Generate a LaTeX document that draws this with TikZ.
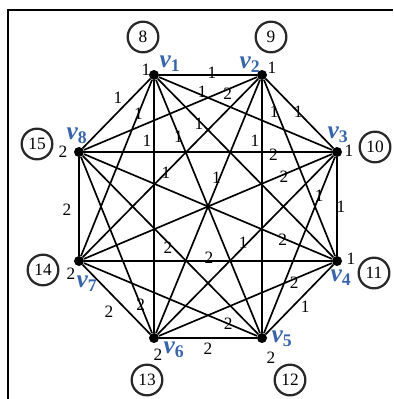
\documentclass[tikz,border=0pt]{standalone}
\usepackage{fontspec}
\setmainfont{Liberation Serif}
\usetikzlibrary{positioning}
\definecolor{vblue}{RGB}{55,100,170}
\definecolor{ringgray}{RGB}{40,40,40}

\begin{document}
\begin{tikzpicture}[x=0.75pt, y=-0.75pt,
  vtx/.style={circle, fill=black, inner sep=0pt, minimum size=7.5pt},
  edge/.style={line width=1.25pt},
  wt/.style={inner sep=0pt, font=\fontsize{13}{15}\selectfont},
  vname/.style={inner sep=0pt, text=vblue, font=\fontsize{19}{21}\selectfont\bfseries\itshape},
  ring/.style={circle, draw=ringgray, line width=1.7pt, minimum size=23pt, inner sep=0pt, font=\fontsize{13}{15}\selectfont}
]
\useasboundingbox (0,0) rectangle (393,399);
\draw[line width=1.2pt] (8,399) -- (8,10) -- (393,10);

% vertices of K8
\node[vtx] (v1) at (154,75) {};
\node[vtx] (v2) at (262,75) {};
\node[vtx] (v3) at (337,152) {};
\node[vtx] (v4) at (337,261) {};
\node[vtx] (v5) at (262,338) {};
\node[vtx] (v6) at (154,338) {};
\node[vtx] (v7) at (79,261) {};
\node[vtx] (v8) at (79,152) {};

% edges from v1
\draw[edge] (v1) -- node[wt, pos=.54, yshift=1.5pt] {1} (v2);
\draw[edge] (v1) -- node[wt, pos=.245, xshift=.75pt, yshift=2.25pt] {1} (v3);
\draw[edge] (v1) -- node[wt, pos=.244, xshift=-1.1pt, yshift=-1.1pt] {1} (v4);
\draw[edge] (v1) -- node[wt, pos=.226, xshift=-.75pt] {1} (v5);
\draw[edge] (v1) -- node[wt, pos=.24, xshift=-5.25pt] {1} (v6);
\draw[edge] (v1) -- node[wt, pos=.19] {1} (v7);
\draw[edge] (v1) -- node[wt, pos=.374, xshift=-5.25pt, yshift=5.25pt] {1} (v8);
% edges from v2
\draw[edge] (v2) -- node[wt, pos=.48] {1} (v3);
\draw[edge] (v2) -- node[wt, pos=.173, xshift=-1.5pt, yshift=-.75pt] {1} (v4);
\draw[edge] (v2) -- node[wt, pos=.24, xshift=-5.25pt] {1} (v5);
\draw[edge] (v2) -- node[wt, pos=.389, xshift=-2.25pt, yshift=.75pt] {1} (v6);
\draw[edge] (v2) -- node[wt, pos=.526] {1} (v7);
\draw[edge] (v2) -- node[wt, pos=.177, xshift=1pt, yshift=-2.5pt] {2} (v8);
% edges from v3
\draw[edge] (v3) -- node[wt, pos=.5, xshift=3pt] {1} (v4);
\draw[edge] (v3) -- node[wt, pos=.221] {1} (v5);
\draw[edge] (v3) -- node[wt, pos=.501, xshift=-1.5pt, yshift=1.5pt] {1} (v6);
\draw[edge] (v3) -- node[wt, pos=.198, xshift=.75pt, yshift=-1.8pt] {2} (v7);
\draw[edge] (v3) -- node[wt, pos=.236, yshift=-2.25pt] {2} (v8);
% edges from v4
\draw[edge] (v4) -- node[wt, pos=.514, xshift=5pt, yshift=-4.8pt] {1} (v5);
\draw[edge] (v4) -- node[wt, pos=.227, xshift=1.1pt, yshift=-2.6pt] {2} (v6);
\draw[edge] (v4) -- node[wt, pos=.496, yshift=2.25pt] {2} (v7);
\draw[edge] (v4) -- node[wt, pos=.199, yshift=-1.3pt] {2} (v8);
% edges from v5
\draw[edge] (v5) -- node[wt, pos=.5, yshift=-8.25pt] {2} (v6);
\draw[edge] (v5) -- node[wt, pos=.167] {2} (v7);
\draw[edge] (v5) -- node[wt, pos=.498, xshift=-2.1pt, yshift=-2pt] {2} (v8);
% edges from v6, v7
\draw[edge] (v6) -- node[wt, pos=.465, xshift=-7.5pt, yshift=-7.5pt] {2} (v7);
\draw[edge] (v6) -- node[wt, pos=.161] {2} (v8);
\draw[edge] (v7) -- node[wt, pos=.47, xshift=-9pt] {2} (v8);

% vertex names
\node[vname] (n1) at ([shift={(16,-11)}]v1) {v\textsubscript{\upshape 1}};
\node[vname] (n2) at ([shift={(-12,-10)}]v2) {v\textsubscript{\upshape 2}};
\node[vname] (n3) at ([shift={(1,-17)}]v3) {v\textsubscript{\upshape 3}};
\node[vname] (n4) at ([shift={(4,17)}]v4) {v\textsubscript{\upshape 4}};
\node[vname] (n5) at ([shift={(20,1)}]v5) {v\textsubscript{\upshape 5}};
\node[vname] (n6) at ([shift={(20,12)}]v6) {v\textsubscript{\upshape 6}};
\node[vname] (n7) at ([shift={(8,23)}]v7) {v\textsubscript{\upshape 7}};
\node[vname] (n8) at ([shift={(-2,-16)}]v8) {v\textsubscript{\upshape 8}};

% numbers at the vertices
\node[wt] (d1) at ([shift={(-8,-5)}]v1) {1};
\node[wt] (d2) at ([shift={(10,-7)}]v2) {1};
\node[wt] (d3) at ([shift={(12,-1)}]v3) {1};
\node[wt] (d4) at ([shift={(14,-2)}]v4) {1};
\node[wt] (d5) at ([shift={(9,20)}]v5) {2};
\node[wt] (d6) at ([shift={(4,17)}]v6) {2};
\node[wt] (d7) at ([shift={(-8,13)}]v7) {2};
\node[wt] (d8) at ([shift={(-16,0)}]v8) {2};

% ringed labels
\node[ring] (c8) at (143,37) {8};
\node[ring] (c9) at (271,37) {9};
\node[ring] (c10) at (375,147) {10};
\node[ring] (c11) at (374,273) {11};
\node[ring] (c12) at (290,380) {12};
\node[ring] (c13) at (147,380) {13};
\node[ring] (c14) at (43,270) {14};
\node[ring] (c15) at (37,144) {15};
\end{tikzpicture}
\end{document}
